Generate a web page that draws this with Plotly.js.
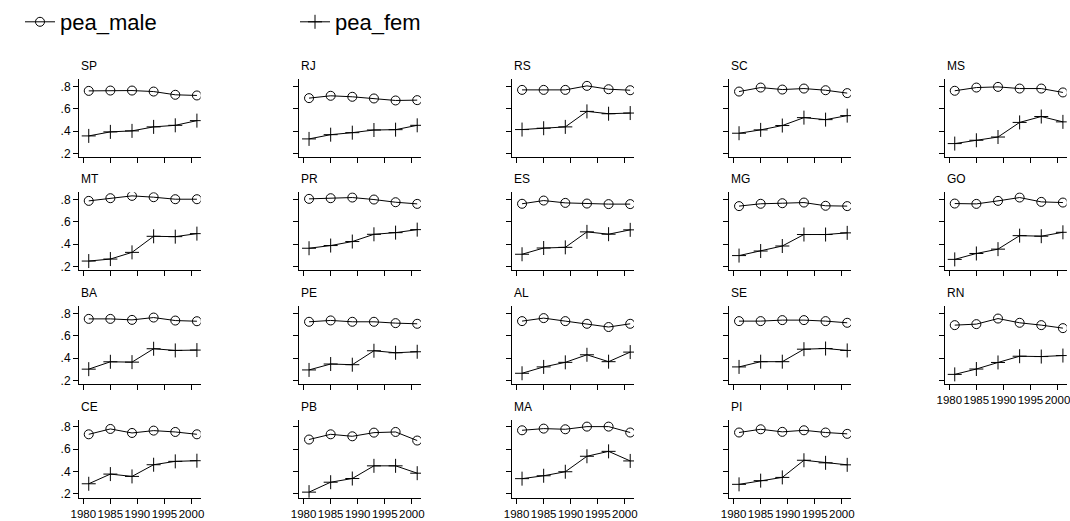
<!DOCTYPE html>
<html><head><meta charset="utf-8">
<script src="https://cdn.plot.ly/plotly-3.0.1.min.js"></script>
<style>html,body{margin:0;padding:0;background:#fff}#chart{width:1070px;height:521px}</style>
</head><body><div id="chart"></div>
<script>
const years = [1981, 1985, 1989, 1993, 1997, 2001];
const xTickVals = [1980, 1985, 1990, 1995, 2000];
const xTickText = ['1980', '1985', '1990', '1995', '2000'];
const yTickVals = [0.2, 0.4, 0.6, 0.8];
const yTickText = ['.2', '.4', '.6', '.8'];
const seriesNames = ['pea_male', 'pea_fem'];
const states = ['SP','RJ','RS','SC','MS','MT','PR','ES','MG','GO','BA','PE','AL','SE','RN','CE','PB','MA','PI'];
const peaMale = [
  [0.761, 0.764, 0.764, 0.755, 0.726, 0.720], // SP
  [0.696, 0.717, 0.708, 0.693, 0.675, 0.678], // RJ
  [0.770, 0.770, 0.770, 0.806, 0.776, 0.767], // RS
  [0.755, 0.791, 0.773, 0.782, 0.767, 0.741], // SC
  [0.762, 0.791, 0.797, 0.782, 0.782, 0.747], // MS
  [0.788, 0.812, 0.833, 0.821, 0.803, 0.803], // MT
  [0.806, 0.812, 0.818, 0.800, 0.776, 0.761], // PR
  [0.762, 0.791, 0.770, 0.764, 0.759, 0.759], // ES
  [0.741, 0.762, 0.767, 0.773, 0.744, 0.741], // MG
  [0.764, 0.761, 0.788, 0.818, 0.779, 0.773], // GO
  [0.752, 0.752, 0.743, 0.764, 0.737, 0.731], // BA
  [0.726, 0.738, 0.726, 0.726, 0.714, 0.708], // PE
  [0.732, 0.759, 0.732, 0.708, 0.679, 0.708], // AL
  [0.732, 0.732, 0.741, 0.741, 0.732, 0.717], // SE
  [0.696, 0.705, 0.755, 0.717, 0.696, 0.669], // RN
  [0.734, 0.782, 0.746, 0.767, 0.755, 0.734], // CE
  [0.687, 0.734, 0.716, 0.749, 0.755, 0.678], // PB
  [0.770, 0.785, 0.779, 0.803, 0.803, 0.750], // MA
  [0.750, 0.779, 0.756, 0.770, 0.750, 0.738]  // PI
];
const peaFem = [
  [0.357, 0.393, 0.402, 0.438, 0.452, 0.494], // SP
  [0.330, 0.368, 0.386, 0.410, 0.413, 0.452], // RJ
  [0.414, 0.426, 0.438, 0.577, 0.556, 0.562], // RS
  [0.381, 0.411, 0.450, 0.521, 0.503, 0.539], // SC
  [0.288, 0.318, 0.347, 0.478, 0.531, 0.483], // MS
  [0.248, 0.266, 0.326, 0.470, 0.467, 0.494], // MT
  [0.363, 0.387, 0.423, 0.488, 0.503, 0.530], // PR
  [0.309, 0.365, 0.371, 0.510, 0.489, 0.528], // ES
  [0.297, 0.338, 0.383, 0.486, 0.486, 0.501], // MG
  [0.263, 0.316, 0.355, 0.476, 0.471, 0.506], // GO
  [0.301, 0.367, 0.364, 0.484, 0.469, 0.472], // BA
  [0.294, 0.347, 0.341, 0.466, 0.448, 0.457], // PE
  [0.264, 0.321, 0.362, 0.430, 0.368, 0.454], // AL
  [0.321, 0.368, 0.368, 0.480, 0.486, 0.469], // SE
  [0.254, 0.302, 0.361, 0.417, 0.414, 0.423], // RN
  [0.290, 0.377, 0.356, 0.461, 0.491, 0.497], // CE
  [0.215, 0.304, 0.337, 0.451, 0.451, 0.385], // PB
  [0.336, 0.362, 0.398, 0.537, 0.581, 0.495], // MA
  [0.285, 0.318, 0.347, 0.501, 0.478, 0.460]  // PI
];

const W = 1070, H = 521;
const FONT = 'Liberation Sans, Arial, sans-serif';
const colLeft = [79, 299.3, 512.3, 729.3, 945];
const panelW = 121.7;
const rowBottom = [157.3, 270.3, 384.3, 497.7];
const panelH = 78;
const nCols = 5;

const traces = [];
const layout = {
  width: W, height: H,
  margin: {l: 0, r: 0, t: 0, b: 0},
  paper_bgcolor: '#fff', plot_bgcolor: '#fff',
  font: {family: FONT, color: '#000', size: 12},
  showlegend: true,
  legend: {x: 20 / W, y: 1 - 1 / H, xanchor: 'left', yanchor: 'top', font: {size: 22, family: FONT}, bgcolor: 'rgba(0,0,0,0)', borderwidth: 0},
  legend2: {x: 295 / W, y: 1 - 1 / H, xanchor: 'left', yanchor: 'top', font: {size: 22, family: FONT}, bgcolor: 'rgba(0,0,0,0)', borderwidth: 0},
  annotations: []
};

states.forEach((st, i) => {
  const row = Math.floor(i / nCols), col = i % nCols;
  const sfx = i === 0 ? '' : String(i + 1);
  const xa = 'x' + sfx, ya = 'y' + sfx;
  const showXLabels = (i + nCols) >= states.length;
  const showYLabels = col === 0;
  const x0 = colLeft[col] / W, x1 = (colLeft[col] + panelW) / W;
  const y0 = (H - rowBottom[row]) / H, y1 = (H - rowBottom[row] + panelH) / H;
  layout['xaxis' + sfx] = {
    domain: [x0, x1], anchor: ya, range: [1979.2, 2001.7],
    showgrid: false, zeroline: false, showline: true, linecolor: '#000', linewidth: 1,
    ticks: 'outside', ticklen: 5, tickwidth: 1, tickcolor: '#000',
    tickmode: 'array', tickvals: xTickVals, ticktext: xTickText, tickangle: 0,
    ticklabeloverflow: 'allow',
    showticklabels: showXLabels, tickfont: {size: 11.5, family: FONT}
  };
  layout['yaxis' + sfx] = {
    domain: [y0, y1], anchor: xa, range: [0.165, 0.865],
    showgrid: false, zeroline: false, showline: true, linecolor: '#000', linewidth: 1,
    ticks: 'outside', ticklen: 5, tickwidth: 1, tickcolor: '#000',
    tickmode: 'array', tickvals: yTickVals, ticktext: yTickText,
    showticklabels: showYLabels, tickfont: {size: 12, family: FONT}
  };
  layout.annotations.push({
    text: st, xref: 'paper', yref: 'paper', x: x0, y: y1 + 13 / H,
    xanchor: 'left', yanchor: 'middle', showarrow: false,
    font: {size: 12, family: FONT, color: '#000'}
  });
  traces.push({
    x: years, y: peaMale[i], xaxis: xa, yaxis: ya, type: 'scatter', mode: 'lines+markers',
    name: seriesNames[0], legend: 'legend', showlegend: i === 0,
    line: {color: '#000', width: 1},
    marker: {symbol: 'circle-open', size: 9, color: '#000', line: {width: 1, color: '#000'}}
  });
  traces.push({
    x: years, y: peaFem[i], xaxis: xa, yaxis: ya, type: 'scatter', mode: 'lines+markers',
    name: seriesNames[1], legend: 'legend2', showlegend: i === 0,
    line: {color: '#000', width: 1},
    marker: {symbol: 'cross-thin-open', size: 10, color: '#000', line: {width: 1, color: '#000'}}
  });
});

Plotly.newPlot('chart', traces, layout, {displayModeBar: false, staticPlot: true});
</script></body></html>
